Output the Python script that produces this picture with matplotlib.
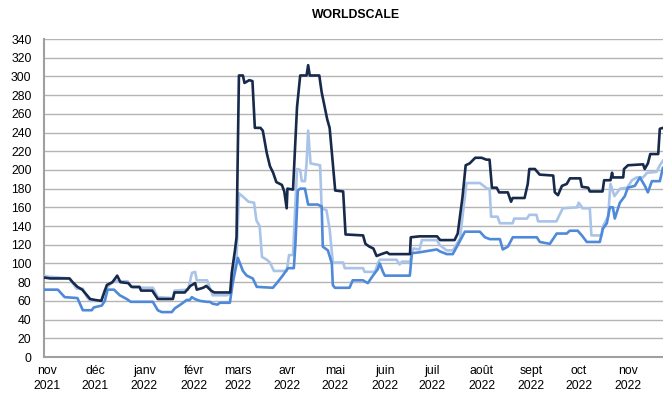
import matplotlib
matplotlib.use("Agg")
import matplotlib.pyplot as plt
import pandas as pd

# ---- data (days after 2021-11-01, Worldscale values) ----
start_date = "2021-11-01"

dark_days = [-2, 2, 14, 16, 19, 22, 25, 27, 30, 34, 37.5, 41, 44, 46, 51, 53, 58, 59, 66, 69.5, 79, 80,
             86.5, 90, 93, 94, 98, 100, 103, 105, 115, 116, 118, 119, 120.5, 123, 124, 127, 129, 130.5,
             134, 135.5, 138, 140, 142, 144, 147.5, 149, 150.5, 151, 154.5, 157, 159, 161, 163, 164, 165,
             171, 172.5, 176, 177.5, 179.5, 181, 186, 187.5, 198.5, 200, 202.5, 205, 207, 210, 213.5, 215,
             228, 228.5, 234, 245, 247, 256, 258, 261, 263, 265.5, 269, 273, 276, 278, 279.5, 282.5, 284,
             289.5, 291.5, 292.5, 300, 302, 303, 306.5, 309.5, 318, 319, 321, 323.5, 326.5, 328.5, 335,
             336, 340, 341, 349, 350, 354, 355, 355.5, 362, 362.5, 365, 374.5, 375.5, 377.5, 379, 384,
             385, 387]
dark_vals = [85, 84, 84, 80, 75, 72, 66, 62, 61, 60, 77, 80, 87, 80, 79, 75, 75, 71, 71, 62, 62, 69,
             69, 76, 79, 72, 74, 76, 71, 69, 69, 90, 114, 128, 301, 301, 293, 296, 295, 245,
             245, 242, 218, 204, 197, 187, 184, 177, 159, 180, 179, 267, 301, 301, 301, 312, 301,
             301, 283, 254, 245, 207, 178, 177, 131, 130, 121, 118, 116, 108, 110, 112, 110,
             110, 128, 129, 129, 125, 125, 132, 171, 205, 207, 213, 213, 211, 211, 181, 181, 176,
             176, 166, 170, 170, 185, 201, 201, 195, 194, 176, 173, 183, 185, 191, 191,
             182, 181, 177, 177, 189, 189, 197, 192, 192, 201, 205, 206, 201, 207, 217, 217,
             244, 245]

light_days = [-2, 0, 14, 16, 18.6, 22.4, 25, 27, 34, 36, 39, 42.5, 44.5, 50.5, 52, 54, 66.5, 69.5, 79, 80,
              88.5, 91, 93, 94, 100.5, 102, 104, 113, 115, 116, 119, 120.5, 124, 126.5, 130, 131.5, 133.5,
              135, 138, 140, 142.5, 150.5, 152, 154.5, 155.5, 157, 159, 160, 162, 163, 164, 165.5, 171.5,
              172.5, 175.5, 177.5, 179.5, 186, 187, 198.5, 199.5, 206, 208, 209, 219.5, 221.5, 223, 228,
              230, 234, 235.5, 245, 246.5, 251, 255, 259.5, 261, 263.5, 272, 276.5, 278, 279, 283, 284.5,
              292.5, 293.5, 301.5, 303, 307.5, 308.5, 320, 322, 324, 333, 334, 336.5, 341, 342, 348.5, 349,
              352.5, 354, 356.5, 360, 364.5, 367.5, 370.5, 374.5, 377, 383, 385, 387]
light_vals = [87, 86, 84, 79, 73, 73, 64, 60, 60, 71, 77, 82, 81, 81, 77, 74, 74, 64, 63, 71,
              72, 90, 91, 82, 82, 75, 66, 66, 68, 80, 107, 175, 170, 166, 165, 146, 140,
              107, 104, 101, 92, 92, 109, 109, 146, 201, 200, 188, 188, 207, 242, 207, 205,
              159, 157, 137, 101, 101, 95, 95, 91, 91, 101, 104, 104, 99, 102, 102,
              116, 115, 125, 125, 120, 114, 114, 127, 150, 186, 186, 180, 180, 150, 150, 143,
              143, 148, 148, 152, 152, 145, 145, 152, 159, 160, 165, 159, 159, 130, 130, 139,
              150, 185, 172, 180, 181, 189, 192, 192, 197, 198, 205, 210]

mid_days = [-2, 6.7, 11, 19, 22.4, 28, 29.3, 34.3, 36.2, 38, 42, 45.6, 50, 52.5, 66.4, 69.5, 72, 78.3,
            80.2, 84.6, 87.7, 89.6, 90.9, 92.8, 96, 100.3, 102.2, 104, 107, 108.5, 114.8, 116.6, 119.8,
            123, 125.4, 129.2, 131.7, 141.8, 144.3, 148, 151.3, 155, 156, 157.5, 159, 162, 164, 170,
            172.5, 173.2, 176.4, 178.9, 179.5, 180.8, 190, 192, 198.4, 201.5, 204.7, 207.8, 209, 211,
            212.2, 227.9, 229.2, 234.2, 244.9, 246.7, 251.1, 254.9, 258.1, 262.5, 271.9, 275.1, 278.2,
            284.5, 286.3, 289.5, 292.6, 307.7, 309.6, 315.9, 320.2, 326.5, 328.4, 333.4, 336, 339.1,
            347.3, 349.2, 351.7, 353.6, 355.5, 356.7, 359.9, 363, 364.9, 369.3, 372.5, 375.6, 377.5,
            380, 385, 386.9]
mid_vals = [72, 72, 64, 63, 50, 50, 53, 55, 60, 72, 72, 66, 62, 59, 59, 50, 48, 48,
            52, 57, 61, 61, 64, 62, 60, 59, 59, 57, 56, 58, 58, 79, 106,
            92, 87, 84, 75, 74, 79, 87, 95, 95, 121, 178, 180, 180, 163, 163,
            161, 118, 114, 100, 77, 74, 74, 82, 82, 79, 87, 94, 100, 91,
            87, 87, 111, 112, 115, 113, 110, 110, 120, 134, 134, 128, 126,
            126, 115, 118, 128, 128, 123, 121, 132, 132, 135, 135, 130, 123,
            123, 137, 143, 160, 160, 148, 165, 172, 181, 183, 192, 183, 176,
            188, 188, 202]

month_labels = ["nov\n2021", "déc\n2021", "janv\n2022", "févr\n2022", "mars\n2022", "avr\n2022",
                "mai\n2022", "juin\n2022", "juil\n2022", "août\n2022", "sept\n2022", "oct\n2022",
                "nov\n2022"]
y_ticks = list(range(0, 341, 20))

# ---- plot ----
plt.rcParams["font.family"] = ["Liberation Sans", "DejaVu Sans"]

t0 = pd.Timestamp(start_date)
def to_dates(days):
    return t0 + pd.to_timedelta(days, unit="D")

fig = plt.figure(figsize=(6.63, 4.03), dpi=100)
ax = fig.add_axes([44 / 663, 1 - 357 / 403, 1 - 44 / 663, (357 - 39) / 403])

ax.plot(to_dates(light_days), light_vals, color="#a9c4e8", lw=1.9, zorder=3)
ax.plot(to_dates(mid_days), mid_vals, color="#4f89da", lw=1.9, zorder=4)
ax.plot(to_dates(dark_days), dark_vals, color="#172a4b", lw=1.9, zorder=5)

ax.set_ylim(0, 340)
ax.set_yticks(y_ticks)
ax.set_xlim(t0 - pd.Timedelta(days=2), t0 + pd.Timedelta(days=387))
month_starts = pd.date_range(start_date, periods=len(month_labels), freq="MS")
ax.set_xticks(month_starts)
ax.set_xticklabels(month_labels)

ax.grid(axis="y", color="#b4b4b4", lw=1.0, zorder=0)
ax.set_axisbelow(True)
for s in ["top", "right"]:
    ax.spines[s].set_visible(False)
for s in ["left", "bottom"]:
    ax.spines[s].set_color("#a0a0a0")
    ax.spines[s].set_linewidth(1.5)
ax.tick_params(axis="both", length=0, labelsize=8.8, colors="black")
ax.tick_params(axis="y", pad=9)
ax.tick_params(axis="x", pad=6)
for lbl in ax.get_xticklabels():
    lbl.set_linespacing(1.3)

fig.text(356 / 663, 1 - 15 / 403, "WORLDSCALE", ha="center", va="center",
         fontsize=8.8, fontweight="bold")

fig.savefig("out.png", dpi=100)
